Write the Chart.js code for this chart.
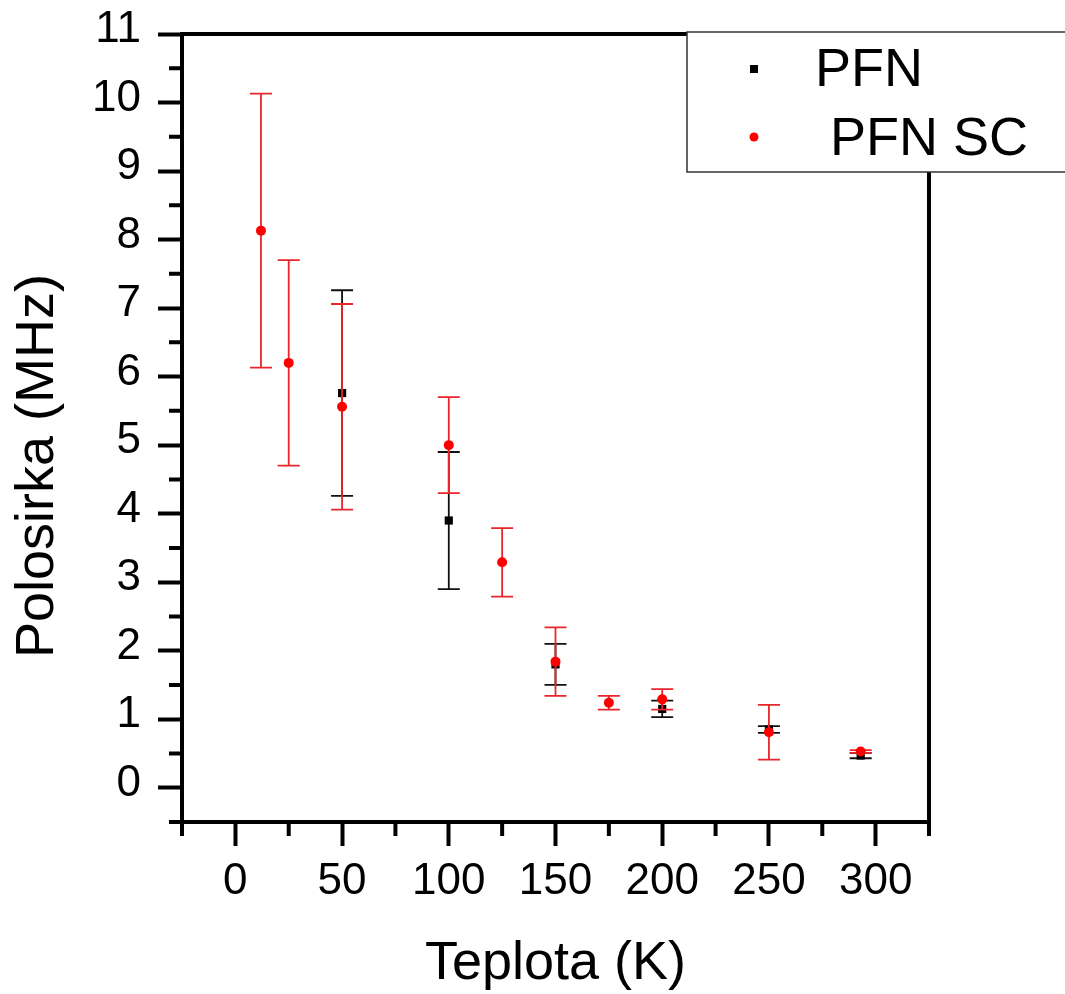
<!DOCTYPE html>
<html>
<head>
<meta charset="utf-8">
<title>Polosirka (MHz) vs Teplota (K)</title>
<script src="https://cdn.jsdelivr.net/npm/chart.js@4.4.1/dist/chart.umd.min.js"></script>
<style>
    html, body { margin: 0; padding: 0; background: #fff; }
    #wrap { width: 1065px; height: 994px; position: relative; }
</style>
</head>
<body>
<div id="wrap"><canvas id="widthChart"></canvas></div>
<script>
const FONT = '"Liberation Sans", Arial, sans-serif';

// PFN (black squares)
const pfnTemp = [50, 100, 150, 200, 250, 293];
const pfnWidth = [5.76, 3.9, 1.8, 1.15, 0.85, 0.47];
const pfnErr = [1.5, 1.0, 0.3, 0.12, 0.05, 0.04];

// PFN SC (red circles)
const scTemp = [12, 25, 50, 100, 125, 150, 175, 200, 250, 293];
const scWidth = [8.13, 6.2, 5.56, 5.0, 3.29, 1.84, 1.24, 1.29, 0.81, 0.53];
const scErr = [2.0, 1.5, 1.5, 0.7, 0.5, 0.5, 0.1, 0.15, 0.4, 0.02];

const seriesLabels = ['PFN', 'PFN SC'];
const xTitle = 'Teplota (K)';
const yTitle = 'Polosirka (MHz)';

const xTicks = [0, 50, 100, 150, 200, 250, 300];
const xMinorTicks = [-25, 25, 75, 125, 175, 225, 275, 325];
const yTicks = [0, 1, 2, 3, 4, 5, 6, 7, 8, 9, 10, 11];
const yMinorTicks = [-0.5, 0.5, 1.5, 2.5, 3.5, 4.5, 5.5, 6.5, 7.5, 8.5, 9.5, 10.5];

function toPoints(xs, ys) {
    return xs.map(function (x, i) { return { x: x, y: ys[i] }; });
}

// vertical error bars with caps, drawn under each dataset's markers
const errorBars = {
    id: 'errorBars',
    beforeDatasetDraw(chart, args) {
        const ds = chart.data.datasets[args.index];
        if (!ds.errors) return;
        const ctx = chart.ctx;
        const xs = chart.scales.x, ys = chart.scales.y;
        ctx.save();
        ctx.strokeStyle = ds.barColor;
        ctx.lineWidth = 1.8;
        ds.data.forEach(function (p, i) {
            const e = ds.errors[i];
            const px = xs.getPixelForValue(p.x);
            const top = ys.getPixelForValue(p.y + e);
            const bot = ys.getPixelForValue(p.y - e);
            ctx.beginPath();
            ctx.moveTo(px, top); ctx.lineTo(px, bot);
            ctx.moveTo(px - 11, top); ctx.lineTo(px + 11, top);
            ctx.moveTo(px - 11, bot); ctx.lineTo(px + 11, bot);
            ctx.stroke();
        });
        ctx.restore();
    }
};

// frame, minor ticks, y title and legend box
const decorations = {
    id: 'decorations',
    afterDraw(chart) {
        const ctx = chart.ctx;
        const a = chart.chartArea;
        const xs = chart.scales.x, ys = chart.scales.y;
        ctx.save();
        ctx.strokeStyle = '#000';
        ctx.lineWidth = 4;
        ctx.beginPath();
        ctx.moveTo(a.left, a.top); ctx.lineTo(a.right, a.top);
        ctx.moveTo(a.right, a.top - 2); ctx.lineTo(a.right, a.bottom + 2);
        yMinorTicks.forEach(function (v) {
            const py = ys.getPixelForValue(v);
            ctx.moveTo(a.left - 13, py); ctx.lineTo(a.left, py);
        });
        xMinorTicks.forEach(function (v) {
            const px = xs.getPixelForValue(v);
            ctx.moveTo(px, a.bottom); ctx.lineTo(px, a.bottom + 14);
        });
        ctx.stroke();

        // y axis title
        ctx.fillStyle = '#000';
        ctx.font = '54px ' + FONT;
        ctx.textAlign = 'center';
        ctx.textBaseline = 'alphabetic';
        ctx.save();
        ctx.translate(53, 466);
        ctx.rotate(-Math.PI / 2);
        ctx.fillText(yTitle, 0, 0);
        ctx.restore();

        // legend
        ctx.fillStyle = '#fff';
        ctx.fillRect(687, 32, 400, 140);
        ctx.strokeStyle = '#333';
        ctx.lineWidth = 1.5;
        ctx.strokeRect(687, 32, 400, 140);

        ctx.fillStyle = '#000';
        ctx.fillRect(750, 65, 8, 8);
        ctx.fillStyle = '#ff0000';
        ctx.beginPath();
        ctx.arc(754, 137, 4.5, 0, Math.PI * 2);
        ctx.fill();

        ctx.fillStyle = '#000';
        ctx.textAlign = 'left';
        ctx.font = '54px ' + FONT;
        ctx.fillText(seriesLabels[0], 815, 86);
        ctx.fillText(seriesLabels[1], 830, 155);
        ctx.restore();
    }
};

const tickFont = { family: FONT, size: 44 };

new Chart(document.getElementById('widthChart'), {
    type: 'scatter',
    data: {
        datasets: [
            {
                label: seriesLabels[0],
                data: toPoints(pfnTemp, pfnWidth),
                errors: pfnErr,
                barColor: '#111',
                pointStyle: 'rect',
                pointRadius: 5.8,
                pointBackgroundColor: '#000',
                pointBorderWidth: 0,
                showLine: false,
                order: 2
            },
            {
                label: seriesLabels[1],
                data: toPoints(scTemp, scWidth),
                errors: scErr,
                barColor: '#e8262b',
                pointStyle: 'circle',
                pointRadius: 5,
                pointBackgroundColor: '#ff0000',
                pointBorderWidth: 0,
                showLine: false,
                order: 1
            }
        ]
    },
    options: {
        responsive: true,
        maintainAspectRatio: false,
        animation: false,
        layout: { padding: { top: 34, right: 136, left: 0, bottom: 0 } },
        plugins: {
            legend: { display: false },
            tooltip: { enabled: false }
        },
        scales: {
            x: {
                type: 'linear',
                min: -25,
                max: 325,
                afterBuildTicks: function (scale) {
                    scale.ticks = xTicks.map(function (v) { return { value: v }; });
                },
                afterFit: function (scale) {
                    scale.height = 172;
                    scale.paddingLeft = 0;
                    scale.paddingRight = 0;
                },
                ticks: { color: '#000', font: tickFont, padding: 9, maxRotation: 0 },
                grid: { drawOnChartArea: false, tickLength: 24, tickWidth: 4, tickColor: '#000' },
                border: { width: 4, color: '#000' },
                title: {
                    display: true,
                    text: xTitle,
                    color: '#000',
                    font: { family: FONT, size: 54, lineHeight: 1.1 },
                    padding: { top: 0, bottom: 0 }
                }
            },
            y: {
                type: 'linear',
                min: -0.5,
                max: 11,
                afterBuildTicks: function (scale) {
                    scale.ticks = yTicks.map(function (v) { return { value: v }; });
                },
                afterFit: function (scale) {
                    scale.width = 182;
                    scale.paddingTop = 0;
                    scale.paddingBottom = 0;
                },
                ticks: { color: '#000', font: tickFont, padding: 17, labelOffset: -4 },
                grid: { drawOnChartArea: false, tickLength: 24, tickWidth: 4, tickColor: '#000' },
                border: { width: 4, color: '#000' }
            }
        }
    },
    plugins: [errorBars, decorations]
});
</script>
</body>
</html>
